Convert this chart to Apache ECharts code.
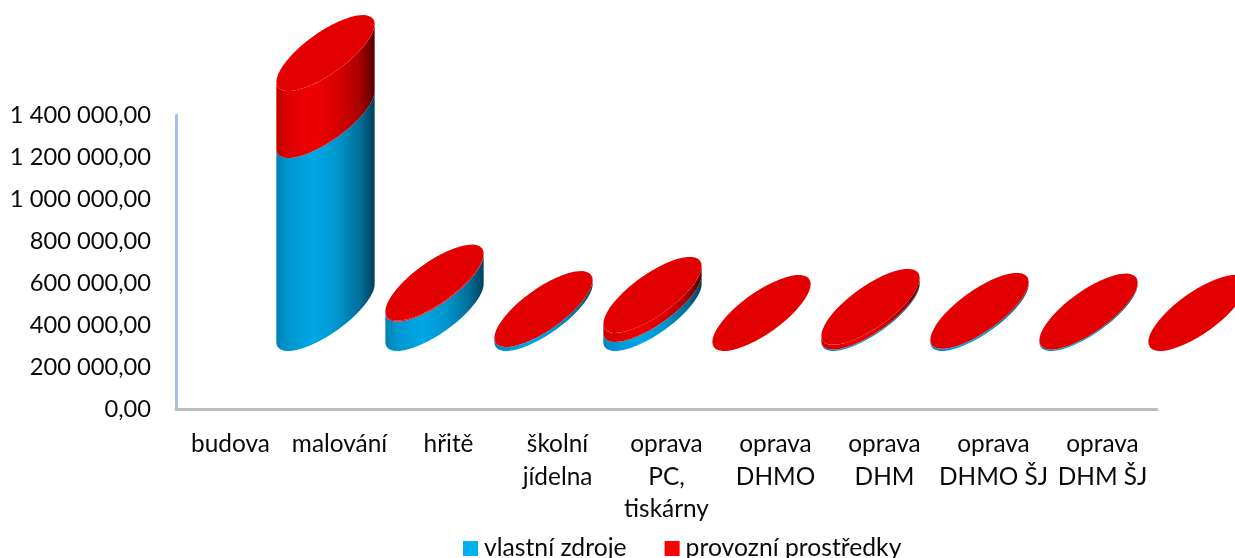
<!DOCTYPE html>
<html lang="en">
<head>
    <meta charset="UTF-8">
    <title>Document</title>
    <style>html,body{margin:0;padding:0;background:#fff;overflow:hidden}</style>
</head>
<body>
    <div id="app" style="width:1235px;height:558px;"></div>
    <script src="https://cdn.jsdelivr.net/npm/echarts@6/dist/echarts.min.js"></script>
    <script>
        // the 10th cylinder sits past the last label, same as in the picture
        const categories = ['budova','malování','hřitě','školní\njídelna','oprava\nPC,\ntiskárny','oprava\nDHMO','oprava\nDHM','oprava\nDHMO ŠJ','oprava\nDHM ŠJ'];
        const vlastni = [null,919000,140000,19000,43000,0,7000,10000,7000,0];
        const provozni = [null,319000,5000,0,43000,0,22000,0,0,0];
        const yTicks = {min:0,max:1400000,step:200000};

        const font = 'Lato';
        const blueStops = [[0,'#0082b4'],[0.12,'#0096cf'],[0.38,'#00a8e6'],[0.62,'#0096cc'],[0.85,'#006f99'],[1,'#00405a']];
        const redStops = [[0,'#c40000'],[0.12,'#dc0000'],[0.38,'#f20000'],[0.62,'#d80000'],[0.85,'#a80000'],[1,'#560000']];

        const myChart = echarts.init(document.getElementById('app'));

        // fake 3D: flat tilted ellipses, moved up and left from the axis position
        const FLOOR_UP = 96, SHIFT_X = -14, TILT = 0.76, RY = 38;
        function ring(cx,cy,rx,from,to){
            const pts=[], sin=Math.sqrt(1-TILT*TILT);
            for(let k=0;k<=48;k++){
                const t=from+(to-from)*k/48;
                pts.push([cx+rx*Math.cos(t), cy-RY*(TILT*Math.cos(t)+sin*Math.sin(t))]);
            }
            return pts;
        }
        function cylinder(stops,withTop){
            return function(params,api){
                const from=api.value(1), to=api.value(2);
                if(isNaN(from)||isNaN(to)) return null;
                const i=api.value(0);
                const p0=api.coord([i,from]), p1=api.coord([i,to]);
                const rx=api.size([1,0])[0]*0.451;
                const cx=p0[0]+SHIFT_X, y0=p0[1]-FLOOR_UP, y1=p1[1]-FLOOR_UP;
                const children=[];
                if(y0-y1>0.2){
                    // lower half of the bottom ring, then back along the top ring
                    const side=ring(cx,y0,rx,Math.PI,2*Math.PI).concat(ring(cx,y1,rx,2*Math.PI,Math.PI));
                    children.push({type:'polygon',shape:{points:side},
                        style:{fill:new echarts.graphic.LinearGradient(0,0,1,0,stops.map(s=>({offset:s[0],color:s[1]})))}});
                }
                if(withTop){
                    children.push({type:'polygon',shape:{points:ring(cx,y1,rx,0,2*Math.PI)},style:{fill:'#e30000'}});
                }
                return {type:'group',children:children};
            };
        }

        const rowsBlue = vlastni.map((v,i)=>[i, v===null?null:0, v]);
        const rowsRed = provozni.map((v,i)=>[i, vlastni[i], v===null?null:vlastni[i]+v]);

        const options={
            animation:false,
            textStyle:{fontFamily:font},
            legend:{
                left:458,top:531,itemWidth:15,itemHeight:15,itemGap:38,icon:'rect',
                textStyle:{fontFamily:font,fontSize:24.7,color:'#0a0a0a',padding:[0,0,0,1]},
                data:['vlastní zdroje','provozní prostředky']
            },
            grid:{left:176,top:115,width:981,height:294},
            xAxis:{
                type:'category',data:categories,
                axisLine:{lineStyle:{color:'#bcbcbc',width:3}},
                axisTick:{show:false},
                axisLabel:{interval:0,margin:19,fontFamily:font,fontSize:24.4,lineHeight:32.5,color:'#0a0a0a',verticalAlign:'top'}
            },
            yAxis:{
                type:'value',min:yTicks.min,max:yTicks.max,interval:yTicks.step,
                splitLine:{show:false},axisTick:{show:false},
                axisLine:{show:true,lineStyle:{color:'#a8c2e2',width:3}},
                axisLabel:{
                    margin:25,fontFamily:font,fontSize:23.7,color:'#0a0a0a',padding:[4,0,0,0],
                    formatter:v=>String(v).replace(/\B(?=(\d{3})+$)/g,' ')+',00'
                }
            },
            series:[
                {name:'vlastní zdroje',type:'custom',clip:false,itemStyle:{color:'#00b0f0'},
                 renderItem:cylinder(blueStops,false),encode:{x:0,y:2},data:rowsBlue},
                {name:'provozní prostředky',type:'custom',clip:false,itemStyle:{color:'#ff0000'},
                 renderItem:cylinder(redStops,true),encode:{x:0,y:2},data:rowsRed}
            ]
        };
        myChart.setOption(options);
    </script>
</body>
</html>
